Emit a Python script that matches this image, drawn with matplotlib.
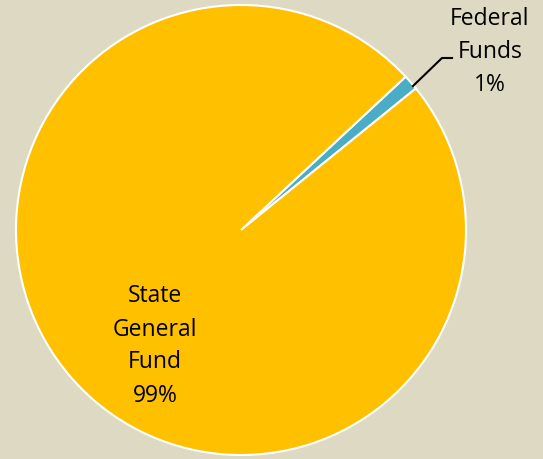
import matplotlib.pyplot as plt

labels = ["Federal\nFunds\n1%", "State\nGeneral\nFund\n99%"]
values = [1.1, 98.9]
colors = ["#4BACC6", "#FFC000"]

plt.rcParams['font.family'] = ['Open Sans', 'DejaVu Sans']

fig = plt.figure(figsize=(5.43, 4.59), dpi=100)
fig.patch.set_facecolor("#DDD9C3")
ax = fig.add_axes([0, 0, 1, 1])
ax.set_facecolor("#DDD9C3")

# pie in pixel-like coordinates so labels are easy to place
ax.pie(values, colors=colors, startangle=39.0, center=(241, 229), radius=225,
       wedgeprops=dict(edgecolor="white", linewidth=1.5), frame=True)
ax.set_xlim(0, 543)
ax.set_ylim(0, 459)
ax.set_aspect("equal")
ax.axis("off")

# leader line for the small slice
ax.plot([413, 442, 452], [459 - 86, 459 - 58, 459 - 58], color="black", linewidth=1.5)
ax.text(490, 407, labels[0], ha="center", va="center", fontsize=16.5, linespacing=1.5)
ax.text(155, 113, labels[1], ha="center", va="center", fontsize=16.5, linespacing=1.5)

plt.savefig("out.png", dpi=100, facecolor=fig.get_facecolor())
